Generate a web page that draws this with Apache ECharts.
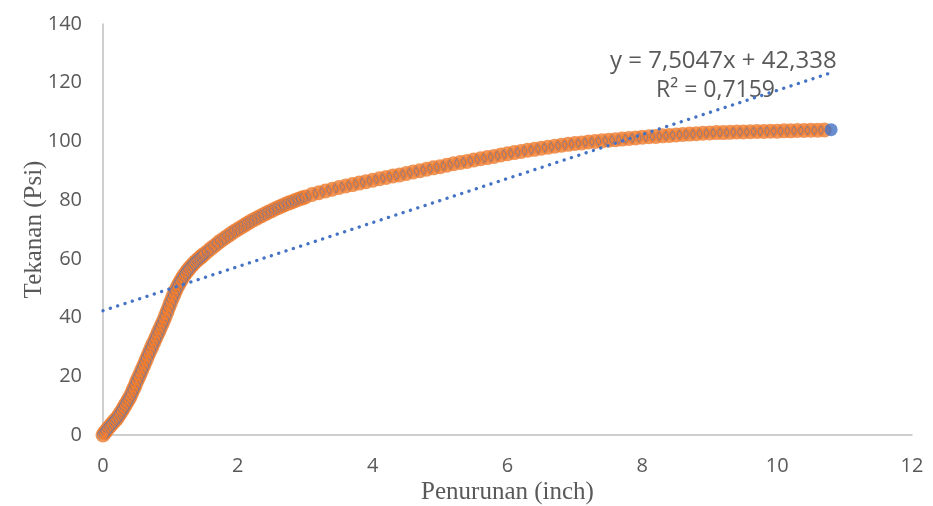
<!DOCTYPE html>
<html>
<head>
<meta charset="utf-8">
<script src="https://cdn.jsdelivr.net/npm/echarts@6/dist/echarts.min.js"></script>
<style>
	html, body { margin: 0; padding: 0; background: #fff; }
	#chart { width: 933px; height: 506px; }
</style>
</head>
<body>
<div id="chart"></div>
<script>
// Penurunan (inch) - sumbu x
var penurunan = [
	0, 0.025, 0.05, 0.075, 0.1, 0.125, 0.15, 0.175, 0.2, 0.225, 0.25, 0.275, 0.3, 0.325, 0.35, 0.375,
	0.4, 0.425, 0.45, 0.475, 0.5, 0.525, 0.55, 0.575, 0.6, 0.625, 0.65, 0.675, 0.7, 0.725, 0.75, 0.775,
	0.8, 0.825, 0.85, 0.875, 0.9, 0.925, 0.95, 0.975, 1.0, 1.025, 1.05, 1.075, 1.1, 1.125, 1.15, 1.175,
	1.2, 1.225, 1.25, 1.275, 1.3, 1.325, 1.35, 1.375, 1.4, 1.425, 1.45, 1.475, 1.5,
	1.55, 1.6, 1.65, 1.7, 1.75, 1.8, 1.85, 1.9, 1.95, 2.0, 2.05, 2.1, 2.15, 2.2, 2.25,
	2.3, 2.35, 2.4, 2.45, 2.5, 2.55, 2.6, 2.65, 2.7, 2.75, 2.8, 2.85, 2.9, 2.95, 3.0,
	3.1, 3.2, 3.3, 3.4, 3.5, 3.6, 3.7, 3.8, 3.9, 4.0, 4.1, 4.2, 4.3, 4.4, 4.5, 4.6, 4.7, 4.8, 4.9, 5.0,
	5.1, 5.2, 5.3, 5.4, 5.5, 5.6, 5.7, 5.8, 5.9, 6.0, 6.1, 6.2, 6.3, 6.4, 6.5, 6.6, 6.7, 6.8, 6.9, 7.0,
	7.1, 7.2, 7.3, 7.4, 7.5, 7.6, 7.7, 7.8, 7.9, 8.0, 8.1, 8.2, 8.3, 8.4, 8.5, 8.6, 8.7, 8.8, 8.9, 9.0,
	9.1, 9.2, 9.3, 9.4, 9.5, 9.6, 9.7, 9.8, 9.9, 10.0, 10.1, 10.2, 10.3, 10.4, 10.5, 10.6, 10.7, 10.8
];
// Tekanan (Psi) - sumbu y
var tekanan = [
	0, 0.8, 1.5, 2.3, 3.0, 3.6, 4.3, 4.9, 5.5, 6.3, 7.2, 8.1, 9.0, 10.0, 11.0, 12.0,
	13.0, 14.2, 15.5, 16.8, 18.2, 19.5, 20.8, 22.1, 23.4, 24.8, 26.2, 27.5, 28.8, 30.1, 31.4, 32.6,
	33.9, 35.2, 36.5, 37.8, 39.1, 40.5, 42.0, 43.5, 45.0, 46.4, 47.8, 49.1, 50.3, 51.4, 52.4, 53.4,
	54.3, 55.1, 55.9, 56.6, 57.3, 57.9, 58.5, 59.1, 59.6, 60.1, 60.6, 61.1, 61.6,
	62.5, 63.5, 64.4, 65.3, 66.2, 67.0, 67.8, 68.6, 69.4, 70.1, 70.8, 71.5, 72.2, 72.9, 73.5,
	74.1, 74.7, 75.3, 75.9, 76.4, 77.0, 77.5, 78.0, 78.5, 79.0, 79.4, 79.9, 80.3, 80.7, 81.1,
	81.9, 82.5, 83.1, 83.7, 84.3, 84.8, 85.3, 85.8, 86.3, 86.8, 87.3, 87.7, 88.2, 88.6, 89.1, 89.6, 90.0, 90.5, 91.0, 91.4,
	91.9, 92.4, 92.8, 93.2, 93.7, 94.1, 94.5, 94.9, 95.4, 95.8, 96.2, 96.6, 97.0, 97.3, 97.7, 98.0, 98.4, 98.7, 99.0, 99.3,
	99.5, 99.8, 100.0, 100.2, 100.4, 100.6, 100.8, 101.0, 101.2, 101.4, 101.6, 101.7, 101.9, 102.0, 102.2, 102.4, 102.5, 102.6, 102.8, 102.9,
	103.0, 103.0, 103.1, 103.2, 103.2, 103.3, 103.4, 103.4, 103.5, 103.5, 103.6, 103.6, 103.7, 103.7, 103.8, 103.8, 103.9, 104.0
];
// trendline linear (dari Excel)
var trendSlope = 7.5047;
var trendIntercept = 42.338;
var trendLabel = ['y = 7,5047x + 42,338', 'R² = 0,7159'];

var xTicks = [0, 2, 4, 6, 8, 10, 12];
var yTicks = [0, 20, 40, 60, 80, 100, 120, 140];

var titikData = [];
for (var i = 0; i < penurunan.length; i++) {
	titikData.push([penurunan[i], tekanan[i]]);
}
var badanData = titikData.slice(0, titikData.length - 1);   // semua kecuali titik terakhir
var ujungData = titikData.slice(titikData.length - 1);      // titik terakhir (biru penuh)

var xAwal = penurunan[0], xAkhir = penurunan[penurunan.length - 1];
var trendData = [
	[xAwal, trendSlope * xAwal + trendIntercept],
	[xAkhir, trendSlope * xAkhir + trendIntercept]
];

var labelFont = "'Open Sans', 'Liberation Sans', sans-serif";
var titleFont = "'Liberation Serif', 'DejaVu Serif', serif";
// busur kiri + kanan, jejak tepi marker biru di bawah isian oranye
var busurPath = 'path://M3,0.8A6,6,0,0,0,3,11.2M9,0.8A6,6,0,0,1,9,11.2';

var chart = echarts.init(document.getElementById('chart'), null, { renderer: 'canvas' });
chart.setOption({
	animation: false,
	backgroundColor: '#ffffff',
	grid: {
		left: 103,
		right: 21,
		top: 24,
		bottom: 71,
		outerBoundsMode: 'none'
	},
	xAxis: {
		type: 'value',
		min: xTicks[0],
		max: xTicks[xTicks.length - 1],
		interval: 2,
		name: 'Penurunan (inch)',
		nameLocation: 'middle',
		nameGap: 45,
		nameMoveOverlap: false,
		nameTextStyle: { fontFamily: titleFont, fontSize: 25, color: '#595959' },
		axisLine: { show: true, lineStyle: { color: '#BFBFBF', width: 1.5 } },
		axisTick: { show: false },
		splitLine: { show: false },
		axisLabel: { fontFamily: labelFont, fontSize: 20, color: '#595959', margin: 21 }
	},
	yAxis: {
		type: 'value',
		min: yTicks[0],
		max: yTicks[yTicks.length - 1],
		interval: 20,
		name: 'Tekanan (Psi)',
		nameLocation: 'middle',
		nameRotate: 90,
		nameGap: 56,
		nameMoveOverlap: false,
		nameTextStyle: { fontFamily: titleFont, fontSize: 25, color: '#595959' },
		axisLine: { show: true, lineStyle: { color: '#BFBFBF', width: 1.5 } },
		axisTick: { show: false },
		splitLine: { show: false },
		axisLabel: { fontFamily: labelFont, fontSize: 20, color: '#595959', margin: 21 }
	},
	series: [
		{
			name: 'badan',
			type: 'scatter',
			data: badanData,
			symbol: 'circle',
			symbolSize: 15,
			itemStyle: { color: '#ED7D31', borderWidth: 0 },
			z: 2
		},
		{
			name: 'busur',
			type: 'scatter',
			data: badanData,
			symbol: busurPath,
			symbolSize: [11, 9.5],
			symbolKeepAspect: true,
			itemStyle: { color: 'rgba(0,0,0,0)', borderColor: '#4472C4', borderWidth: 0.9, opacity: 0.6 },
			z: 3
		},
		{
			name: 'ujung',
			type: 'scatter',
			data: ujungData,
			symbol: 'circle',
			symbolSize: 13,
			itemStyle: { color: '#4472C4', borderWidth: 0 },
			z: 3
		},
		{
			name: 'trendline',
			type: 'line',
			data: trendData,
			symbol: 'none',
			lineStyle: { color: '#4472C4', width: 3.3, type: [0.1, 7.6], cap: 'round' },
			z: 4
		}
	],
	graphic: [
		{
			type: 'text',
			left: 610,
			top: 49,
			style: { text: trendLabel[0], font: '24px ' + labelFont, fill: '#595959' }
		},
		{
			type: 'text',
			left: 656,
			top: 79,
			style: { text: trendLabel[1], font: '23px ' + labelFont, fill: '#595959' }
		}
	]
});
</script>
</body>
</html>
